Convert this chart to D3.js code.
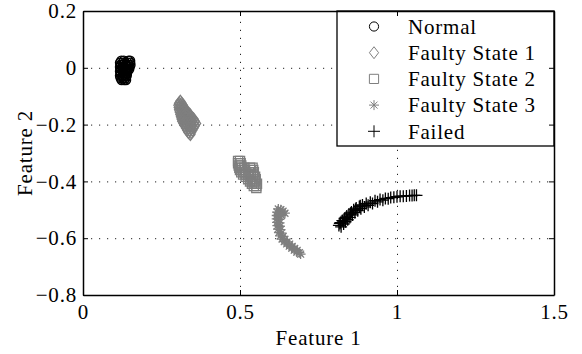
<!DOCTYPE html>
<html>
<head>
<meta charset="utf-8">
<script src="https://cdn.jsdelivr.net/npm/d3@7"></script>
<style>
  body { margin: 0; background: #fff; }
</style>
</head>
<body>
<svg id="chart" width="582" height="354"></svg>
<script>
// ---- data -------------------------------------------------------------
const normalX = [0.122, 0.130, 0.145, 0.150,
                 0.118, 0.126, 0.134, 0.142, 0.150,
                 0.120, 0.128, 0.136, 0.144, 0.151,
                 0.118, 0.125, 0.133, 0.141, 0.148,
                 0.120, 0.127, 0.135, 0.143, 0.147,
                 0.118, 0.126, 0.134, 0.141,
                 0.120, 0.128, 0.136, 0.140,
                 0.118, 0.126, 0.134, 0.139,
                 0.120, 0.128, 0.136,
                 0.123, 0.131, 0.137];
const normalY = [0.025, 0.025, 0.025, 0.025,
                 0.018, 0.018, 0.018, 0.018, 0.018,
                 0.010, 0.010, 0.010, 0.010, 0.010,
                 0.003, 0.003, 0.003, 0.003, 0.003,
                 -0.005, -0.005, -0.005, -0.005, -0.005,
                 -0.012, -0.012, -0.012, -0.012,
                 -0.020, -0.020, -0.020, -0.020,
                 -0.028, -0.028, -0.028, -0.028,
                 -0.036, -0.036, -0.036,
                 -0.043, -0.043, -0.043];

const fault1X = [0.310,
                 0.306, 0.314,
                 0.304, 0.312, 0.318,
                 0.305, 0.313, 0.320,
                 0.306, 0.314, 0.322, 0.328,
                 0.308, 0.316, 0.324, 0.332,
                 0.310, 0.318, 0.326, 0.334, 0.340,
                 0.312, 0.320, 0.328, 0.336, 0.344,
                 0.314, 0.322, 0.330, 0.338, 0.346, 0.352,
                 0.316, 0.324, 0.332, 0.340, 0.348, 0.356,
                 0.320, 0.328, 0.336, 0.344, 0.352, 0.360,
                 0.324, 0.332, 0.340, 0.348, 0.356,
                 0.328, 0.336, 0.344, 0.352,
                 0.332, 0.340, 0.348,
                 0.336, 0.344,
                 0.342];
const fault1Y = [-0.118,
                 -0.125, -0.125,
                 -0.132, -0.132, -0.132,
                 -0.140, -0.140, -0.140,
                 -0.148, -0.148, -0.148, -0.148,
                 -0.156, -0.156, -0.156, -0.156,
                 -0.164, -0.164, -0.164, -0.164, -0.164,
                 -0.172, -0.172, -0.172, -0.172, -0.172,
                 -0.180, -0.180, -0.180, -0.180, -0.180, -0.180,
                 -0.188, -0.188, -0.188, -0.188, -0.188, -0.188,
                 -0.196, -0.196, -0.196, -0.196, -0.196, -0.196,
                 -0.204, -0.204, -0.204, -0.204, -0.204,
                 -0.212, -0.212, -0.212, -0.212,
                 -0.220, -0.220, -0.220,
                 -0.228, -0.228,
                 -0.235];

const fault2X = [0.494, 0.500,
                 0.494, 0.502,
                 0.496, 0.504,
                 0.498, 0.506, 0.514, 0.532, 0.540,
                 0.500, 0.508, 0.516, 0.534, 0.542,
                 0.504, 0.512, 0.520, 0.528, 0.536, 0.544,
                 0.510, 0.518, 0.526, 0.534, 0.542,
                 0.518, 0.526, 0.534, 0.542, 0.548,
                 0.526, 0.534, 0.542, 0.550,
                 0.532, 0.540, 0.548,
                 0.538, 0.546, 0.554,
                 0.544, 0.552,
                 0.552];
const fault2Y = [-0.328, -0.328,
                 -0.336, -0.336,
                 -0.344, -0.344,
                 -0.352, -0.352, -0.352, -0.352, -0.352,
                 -0.360, -0.360, -0.360, -0.360, -0.360,
                 -0.368, -0.368, -0.368, -0.368, -0.368, -0.368,
                 -0.376, -0.376, -0.376, -0.376, -0.376,
                 -0.384, -0.384, -0.384, -0.384, -0.384,
                 -0.392, -0.392, -0.392, -0.392,
                 -0.400, -0.400, -0.400,
                 -0.408, -0.408, -0.408,
                 -0.416, -0.416,
                 -0.423];

const fault3X = [0.622, 0.630, 0.637, 0.643, 0.618, 0.626, 0.617, 0.625, 0.632, 0.617, 0.625, 0.618, 0.626,
                 0.619, 0.627, 0.621, 0.629, 0.624, 0.632, 0.628, 0.637, 0.634, 0.643, 0.641, 0.650,
                 0.649, 0.658, 0.657, 0.666, 0.665, 0.674, 0.673, 0.682, 0.681, 0.689, 0.693];
const fault3Y = [-0.497, -0.500, -0.505, -0.512, -0.508, -0.510, -0.520, -0.522, -0.520, -0.532, -0.534, -0.544, -0.546,
                 -0.556, -0.558, -0.568, -0.570, -0.580, -0.582, -0.592, -0.594, -0.603, -0.604, -0.612, -0.613,
                 -0.620, -0.621, -0.628, -0.629, -0.635, -0.636, -0.642, -0.643, -0.649, -0.651, -0.656];

const failedX = [0.815, 0.820, 0.822, 0.826, 0.830, 0.833, 0.836, 0.840, 0.843, 0.847, 0.850, 0.855, 0.858, 0.862,
                 0.866, 0.870, 0.875, 0.880, 0.885, 0.890, 0.896, 0.902, 0.908, 0.915, 0.922, 0.930, 0.938, 0.946,
                 0.955, 0.963, 0.972, 0.980, 0.990, 1.000, 1.010, 1.020, 1.030, 1.040, 1.048, 1.055, 1.062,
                 0.818, 0.828, 0.838, 0.852, 0.868, 0.883];
const failedY = [-0.555, -0.545, -0.560, -0.538, -0.550, -0.530, -0.542, -0.522, -0.535, -0.515, -0.527, -0.508, -0.518, -0.500,
                 -0.510, -0.494, -0.503, -0.488, -0.496, -0.483, -0.490, -0.478, -0.484, -0.473, -0.478, -0.468, -0.472, -0.464,
                 -0.466, -0.460, -0.461, -0.457, -0.456, -0.454, -0.452, -0.452, -0.451, -0.450, -0.450, -0.449, -0.449,
                 -0.548, -0.540, -0.528, -0.512, -0.498, -0.486];

const seriesNames = ["Normal", "Faulty State 1", "Faulty State 2", "Faulty State 3", "Failed"];

const xTicks = [0, 0.5, 1, 1.5];
const xTickLabels = ["0", "0.5", "1", "1.5"];
const yTicks = [-0.8, -0.6, -0.4, -0.2, 0, 0.2];
const yTickLabels = ["\u22120.8", "\u22120.6", "\u22120.4", "\u22120.2", "0", "0.2"];
const xTitle = "Feature 1";
const yTitle = "Feature 2";

// ---- marker shapes ----------------------------------------------------
const shapes = {
  circle:   r => `M${-r},0a${r},${r} 0 1,0 ${2 * r},0a${r},${r} 0 1,0 ${-2 * r},0`,
  diamond:  r => `M0,${-r * 1.3}L${r},0L0,${r * 1.3}L${-r},0Z`,
  square:   r => `M${-r},${-r}h${2 * r}v${2 * r}h${-2 * r}Z`,
  asterisk: r => { const d = r * 0.7;
              return `M${-r},0H${r}M0,${-r}V${r}M${-d},${-d}L${d},${d}M${-d},${d}L${d},${-d}`; },
  plus:     r => `M${-r},0H${r}M0,${-r}V${r}`
};

const series = [
  { name: seriesNames[0], xs: normalX, ys: normalY, shape: "circle",   size: 4.6, color: "#000" },
  { name: seriesNames[1], xs: fault1X, ys: fault1Y, shape: "diamond",  size: 4.6, color: "#7f7f7f" },
  { name: seriesNames[2], xs: fault2X, ys: fault2Y, shape: "square",   size: 4.6, color: "#7f7f7f" },
  { name: seriesNames[3], xs: fault3X, ys: fault3Y, shape: "asterisk", size: 5.0, color: "#7f7f7f" },
  { name: seriesNames[4], xs: failedX, ys: failedY, shape: "plus",     size: 6.0, color: "#000" }
];

// ---- layout -----------------------------------------------------------
const FONT = "'Liberation Serif', 'DejaVu Serif', 'Times New Roman', serif";
const svg = d3.select("#chart").attr("font-family", FONT);
const plot = { left: 83, right: 554, top: 11, bottom: 295 };
const fontSize = 21;
const letterSpacing = 0.8;

const x = d3.scaleLinear().domain([0, 1.5]).range([plot.left, plot.right]);
const y = d3.scaleLinear().domain([-0.8, 0.2]).range([plot.bottom, plot.top]);
const h = plot.bottom - plot.top;
const w = plot.right - plot.left;

// dotted grid
const gridX = svg.append("g")
  .attr("transform", `translate(0,${plot.bottom})`)
  .call(d3.axisBottom(x).tickValues(xTicks).tickSize(-h).tickFormat(""));
const gridY = svg.append("g")
  .attr("transform", `translate(${plot.left},0)`)
  .call(d3.axisLeft(y).tickValues(yTicks).tickSize(-w).tickFormat(""));
[gridX, gridY].forEach(g => {
  g.select(".domain").remove();
  g.selectAll("line").attr("stroke", "#222").attr("stroke-width", 1)
    .attr("stroke-dasharray", "1.2,6.8");
});

// scatter series
series.forEach(s => {
  const pts = s.xs.map((v, i) => [v, s.ys[i]]);
  svg.append("g")
    .selectAll("path")
    .data(pts)
    .join("path")
    .attr("transform", d => `translate(${x(d[0])},${y(d[1])})`)
    .attr("d", shapes[s.shape](s.size))
    .attr("fill", "none")
    .attr("stroke", s.color)
    .attr("stroke-width", 1.3);
});

// legend
const legend = { x0: 337, y0: plot.top, x1: plot.right, y1: 146, markerX: 374, textX: 408, firstY: 26.5, step: 26.2 };
svg.append("rect")
  .attr("x", legend.x0).attr("y", legend.y0)
  .attr("width", legend.x1 - legend.x0).attr("height", legend.y1 - legend.y0)
  .attr("fill", "#fff").attr("stroke", "#000").attr("stroke-width", 1.3);
series.forEach((s, i) => {
  const yy = legend.firstY + i * legend.step;
  svg.append("path")
    .attr("transform", `translate(${legend.markerX},${yy})`)
    .attr("d", shapes[s.shape](s.size))
    .attr("fill", "none").attr("stroke", s.color).attr("stroke-width", 1);
  svg.append("text")
    .attr("x", legend.textX).attr("y", yy).attr("dy", "0.35em")
    .attr("font-family", FONT)
    .attr("font-size", fontSize).attr("letter-spacing", letterSpacing)
    .text(s.name);
});

// axes: inward ticks on all four sides, labels on left and bottom
const tick = 5;
const axBottom = svg.append("g").attr("transform", `translate(0,${plot.bottom})`)
  .call(d3.axisBottom(x).tickValues(xTicks).tickSizeInner(-tick).tickSizeOuter(0).tickPadding(9)
    .tickFormat((d, i) => xTickLabels[i]));
const axTop = svg.append("g").attr("transform", `translate(0,${plot.top})`)
  .call(d3.axisTop(x).tickValues(xTicks).tickSizeInner(-tick).tickSizeOuter(0).tickFormat(""));
const axLeft = svg.append("g").attr("transform", `translate(${plot.left},0)`)
  .call(d3.axisLeft(y).tickValues(yTicks).tickSizeInner(-tick).tickSizeOuter(0).tickPadding(6)
    .tickFormat((d, i) => yTickLabels[i]));
const axRight = svg.append("g").attr("transform", `translate(${plot.right},0)`)
  .call(d3.axisRight(y).tickValues(yTicks).tickSizeInner(-tick).tickSizeOuter(0).tickFormat(""));
[axBottom, axTop, axLeft, axRight].forEach(g => {
  g.attr("font-family", FONT).attr("font-size", fontSize);
  g.select(".domain").attr("stroke", "#000").attr("stroke-width", 1.5);
  g.selectAll("line").attr("stroke", "#000").attr("stroke-width", 1);
  g.selectAll("text").attr("font-family", FONT).attr("font-size", fontSize)
    .attr("letter-spacing", letterSpacing).attr("fill", "#000");
});

// axis titles
svg.append("text")
  .attr("x", (plot.left + plot.right) / 2).attr("y", 345)
  .attr("text-anchor", "middle").attr("font-family", FONT)
  .attr("font-size", fontSize).attr("letter-spacing", letterSpacing)
  .text(xTitle);
svg.append("text")
  .attr("transform", `translate(32,${(plot.top + plot.bottom) / 2}) rotate(-90)`)
  .attr("text-anchor", "middle").attr("font-family", FONT)
  .attr("font-size", fontSize).attr("letter-spacing", letterSpacing)
  .text(yTitle);
</script>
</body>
</html>
